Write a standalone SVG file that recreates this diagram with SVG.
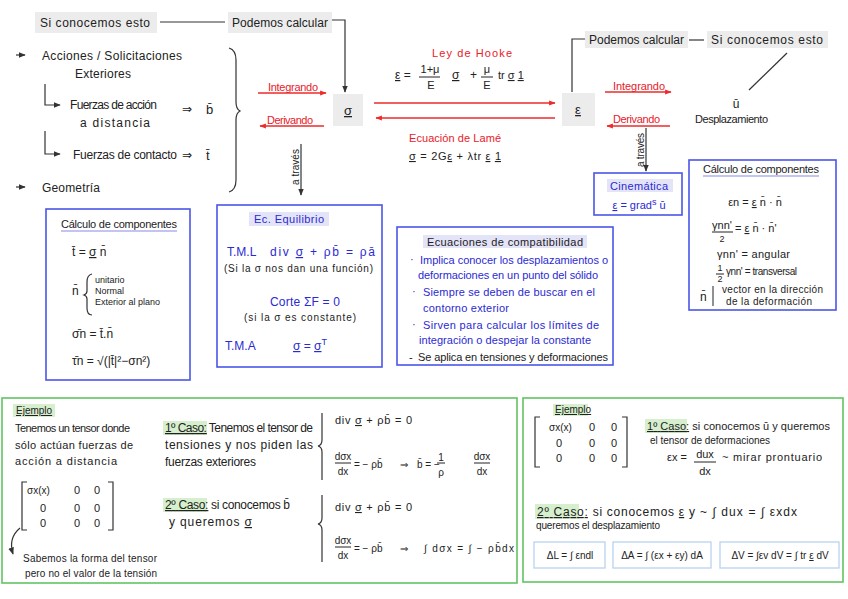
<svg xmlns="http://www.w3.org/2000/svg" width="848" height="599" viewBox="0 0 848 599">
<defs>
<style>
text{font-family:"Liberation Sans","DejaVu Sans",sans-serif;font-size:11px;fill:#222}
.r{fill:#e8202a}
.b{fill:#2a2ad2}
.s9{font-size:9px}
.s10{font-size:10px}
.s12{font-size:12px}
.s13{font-size:13px}
.mid{text-anchor:middle}
.u{text-decoration:underline}
.gbox{fill:#ececec}
.ln{stroke:#333;stroke-width:1.2;fill:none}
.rl{stroke:#ee2a2a;stroke-width:1.3;fill:none}
.bb{fill:#fff;stroke:#4b55e8;stroke-width:1.6}
.gb{fill:#fff;stroke:#62c462;stroke-width:1.6}
.lb{fill:#fff;stroke:#b9d3f2;stroke-width:1.3}
.hg{fill:#d6efcd}
.hb{fill:#e4e4f8}
.ul{stroke:#8a8ae8;stroke-width:1.2}
.bar{stroke:#222;stroke-width:1}
</style>
<marker id="ah" viewBox="0 0 10 10" refX="9" refY="5" markerWidth="6" markerHeight="6" orient="auto-start-reverse"><path d="M0,1 L10,5 L0,9 z" fill="#333"/></marker>
<marker id="ahr" viewBox="0 0 10 10" refX="9" refY="5" markerWidth="5" markerHeight="5" orient="auto-start-reverse"><path d="M0,1 L10,5 L0,9 z" fill="#ee2a2a"/></marker>
</defs>
<rect width="848" height="599" fill="#fff"/>

<g id="connectors">
<path class="ln" d="M160,22 H225"/>
<path class="ln" d="M332,20 H345 V92" marker-end="url(#ah)"/>
<path class="ln" d="M16,55 H25" marker-end="url(#ah)"/>
<path class="ln" d="M16,187 H25" marker-end="url(#ah)"/>
<path class="ln" d="M45,84 V105 H60" marker-end="url(#ah)"/>
<path class="ln" d="M45,131 V154 H60" marker-end="url(#ah)"/>
<path class="ln" d="M229,48 Q236,50 236,60 V102 Q236,109 240,111 Q236,113 236,120 V180 Q236,190 229,192"/>
<path class="rl" d="M258,93 H326" marker-end="url(#ahr)"/>
<path class="rl" d="M324,126 H260" marker-end="url(#ahr)"/>
<path class="ln" d="M301,144 V195" marker-end="url(#ah)"/>
<path class="rl" d="M374,103 H555" marker-end="url(#ahr)"/>
<path class="rl" d="M555,118 H376" marker-end="url(#ahr)"/>
<path class="ln" d="M572,92 V39 H585"/>
<path class="ln" d="M689,40 H704"/>
<path class="ln" d="M787,53 L749,90"/>
<path class="rl" d="M605,92 H671" marker-end="url(#ahr)"/>
<path class="rl" d="M670,126 H607" marker-end="url(#ahr)"/>
<path class="ln" d="M646,128 V171" marker-end="url(#ah)"/>
<text x="296" y="170" class="s10 mid" transform="rotate(-90 296 167)" textLength="36">a través</text>
<text x="641" y="153" class="s10 mid" transform="rotate(-90 641 150)" textLength="34">a través</text>
<text x="268" y="91" class="r" textLength="50">Integrando</text>
<text x="267" y="124" class="r" textLength="46">Derivando</text>
<text x="613" y="90" class="r" textLength="52">Integrando</text>
<text x="613" y="123" class="r" textLength="47">Derivando</text>
<text x="472" y="57" class="r mid" textLength="80">Ley de Hooke</text>
<text x="395" y="79" class="s12"><tspan class="u">ε</tspan> =</text>
<text x="430" y="73" class="mid">1+μ</text>
<line class="bar" x1="419" y1="77" x2="440" y2="77"/>
<text x="431" y="89" class="mid">E</text>
<text x="452" y="79" class="s12 u">σ</text>
<text x="470" y="79" class="s12">+</text>
<text x="487" y="73" class="mid">μ</text>
<line class="bar" x1="481" y1="77" x2="493" y2="77"/>
<text x="487" y="89" class="mid">E</text>
<text x="498" y="79">tr <tspan class="u">σ</tspan> <tspan class="u">1</tspan></text>
<text x="455" y="142" class="r mid" textLength="92">Ecuación de Lamé</text>
<text x="409" y="160" textLength="92"><tspan class="u">σ</tspan> = 2G<tspan class="u">ε</tspan> + λtr <tspan class="u">ε</tspan> <tspan class="u">1</tspan></text>
</g>

<g id="n-si-conocemos-izq">
<rect class="gbox" x="35" y="12" width="122" height="21"/>
<text x="40" y="27" class="s12" textLength="110">Si conocemos esto</text>
</g>
<g id="n-podemos-izq">
<rect class="gbox" x="228" y="12" width="104" height="21"/>
<text x="232" y="27" class="s12" textLength="96">Podemos calcular</text>
</g>
<g id="n-sigma">
<rect class="gbox" x="333" y="94" width="30" height="32"/>
<text x="348" y="115" class="s13 mid u">σ</text>
</g>
<g id="n-epsilon">
<rect class="gbox" x="562" y="93" width="33" height="33"/>
<text x="578" y="114" class="s13 mid u">ε</text>
</g>
<g id="n-acciones">
<text x="42" y="60" class="s12" textLength="140">Acciones / Solicitaciones</text>
<text x="75" y="78" class="s12" textLength="56">Exteriores</text>
<text x="70" y="109" class="s12" textLength="87">Fuerzas de acción</text>
<text x="80" y="127" class="s12" textLength="70">a distancia</text>
<text x="182" y="113" class="s12">⇒</text>
<text x="206" y="114" class="s13">b̄</text>
<text x="73" y="159" class="s12" textLength="104">Fuerzas de contacto</text>
<text x="182" y="159" class="s12">⇒</text>
<text x="206" y="160" class="s13">t̄</text>
<text x="42" y="192" class="s12" textLength="58">Geometría</text>
</g>
<g id="n-podemos-der">
<rect class="gbox" x="585" y="31" width="103" height="17"/>
<text x="589" y="44" class="s12" textLength="95">Podemos calcular</text>
</g>
<g id="n-si-conocemos-der">
<rect class="gbox" x="707" y="31" width="121" height="17"/>
<text x="711" y="44" class="s12" textLength="112">Si conocemos esto</text>
</g>
<g id="n-desplazamiento">
<text x="736" y="108" class="s12 mid">ū</text>
<text x="695" y="123" textLength="73">Desplazamiento</text>
</g>

<g id="n-calculo-izq">
<rect class="bb" x="46" y="209" width="144" height="171"/>
<text x="61" y="228" textLength="116">Cálculo de componentes</text>
<line class="ul" x1="61" y1="231" x2="177" y2="231"/>
<text x="72" y="256" class="s12">t̄ = <tspan class="u">σ</tspan> n̄</text>
<text x="72" y="295" class="s12">n̄</text>
<path class="ln" d="M92,274 Q87,275 87,282 V291 Q87,294 84,295 Q87,296 87,299 V308 Q87,315 92,315"/>
<text x="95" y="283" class="s9">unitario</text>
<text x="95" y="294" class="s9">Normal</text>
<text x="95" y="305" class="s9">Exterior al plano</text>
<text x="72" y="338" class="s12">σ̄n = t̄.n̄</text>
<text x="72" y="365" class="s12">τ̄n = √(|t̄|²−σn²)</text>
</g>

<g id="n-equilibrio">
<rect class="bb" x="217" y="205" width="165" height="162"/>
<rect class="hb" x="249" y="212" width="80" height="14"/>
<text x="289" y="223" class="b mid" textLength="70">Ec. Equilibrio</text>
<text x="227" y="256" class="b s12">T.M.L</text>
<text x="270" y="256" class="b s12" textLength="105">div <tspan class="u">σ</tspan> + ρb̄ = ρā</text>
<text x="224" y="272" class="s10" textLength="149">(Si la σ nos dan una función)</text>
<text x="305" y="306" class="b s12 mid" textLength="70">Corte ΣF = 0</text>
<text x="300" y="321" class="s10 mid" textLength="112">(si la σ es constante)</text>
<text x="225" y="350" class="b s12">T.M.A</text>
<text x="293" y="350" class="b s12"><tspan class="u">σ</tspan> = <tspan class="u">σ</tspan><tspan dy="-5" class="s9">T</tspan></text>
</g>

<g id="n-compatibilidad">
<rect class="bb" x="397" y="227" width="216" height="138"/>
<rect class="hb" x="423" y="235" width="164" height="13"/>
<text x="505" y="246" class="mid" textLength="156">Ecuaciones de compatibilidad</text>
<text x="410" y="263" class="b">·</text>
<text x="420" y="264" class="b" textLength="188">Implica conocer los desplazamientos o</text>
<text x="418" y="279" class="b" textLength="180">deformaciones en un punto del sólido</text>
<text x="412" y="295" class="b">·</text>
<text x="423" y="296" class="b" textLength="172">Siempre se deben de buscar en el</text>
<text x="423" y="312" class="b" textLength="86">contorno exterior</text>
<text x="412" y="328" class="b">·</text>
<text x="423" y="329" class="b" textLength="176">Sirven para calcular los límites de</text>
<text x="419" y="344" class="b" textLength="172">integración o despejar la constante</text>
<text x="409" y="361">-</text>
<text x="418" y="361" textLength="190">Se aplica en tensiones y deformaciones</text>
</g>

<g id="n-cinematica">
<rect class="bb" x="594" y="173" width="88" height="42"/>
<rect class="hb" x="607" y="179" width="66" height="13"/>
<text x="639" y="190" class="b mid" textLength="58">Cinemática</text>
<text x="639" y="209" class="b mid"><tspan class="u">ε</tspan> = grad<tspan dy="-4" class="s9">s</tspan><tspan dy="4"> ū</tspan></text>
</g>

<g id="n-calculo-der">
<rect class="bb" x="689" y="160" width="147" height="150"/>
<text x="703" y="173" textLength="116">Cálculo de componentes</text>
<line class="ul" x1="703" y1="176" x2="819" y2="176"/>
<text x="755" y="206" class="mid">εn = <tspan class="u">ε</tspan> n̄ · n̄</text>
<text x="722" y="229" class="mid">γnn'</text>
<line class="bar" x1="712" y1="232" x2="733" y2="232"/>
<text x="722" y="242" class="mid s9">2</text>
<text x="735" y="232">= <tspan class="u">ε</tspan> n̄ · n̄'</text>
<text x="717" y="258" textLength="73">γnn' = angular</text>
<text x="720" y="271" class="mid s9">1</text>
<line class="bar" x1="716" y1="274" x2="724" y2="274"/>
<text x="720" y="282" class="mid s9">2</text>
<text x="726" y="275" class="s10" textLength="71">γnn' = transversal</text>
<text x="700" y="301" class="s12">n̄</text>
<line class="bar" x1="713" y1="286" x2="713" y2="306"/>
<text x="722" y="293" class="s10" textLength="101">vector en la dirección</text>
<text x="726" y="305" class="s10" textLength="86">de la deformación</text>
</g>

<g id="n-ejemplo-tensiones">
<rect class="gb" x="2" y="398" width="515" height="185"/>
<rect class="hg" x="13" y="404" width="42" height="13"/>
<text x="16" y="414" class="s10 u">Ejemplo</text>
<text x="15" y="432" textLength="115">Tenemos un tensor donde</text>
<text x="15" y="449" textLength="118">sólo actúan fuerzas de</text>
<text x="15" y="465" textLength="102">acción a distancia</text>
<path class="ln" d="M27,482 H22 V530 H27"/>
<path class="ln" d="M108,482 H113 V530 H108"/>
<text x="27" y="494" class="s10">σx(x)</text>
<text x="77" y="494" class="mid">0</text>
<text x="97" y="494" class="mid">0</text>
<text x="43" y="512" class="mid">0</text>
<text x="77" y="512" class="mid">0</text>
<text x="97" y="512" class="mid">0</text>
<text x="43" y="527" class="mid">0</text>
<text x="77" y="527" class="mid">0</text>
<text x="97" y="527" class="mid">0</text>
<path class="ln" d="M20,528 Q8,538 13,554" marker-end="url(#ah)"/>
<text x="23" y="562" class="s10" textLength="134">Sabemos la forma del tensor</text>
<text x="25" y="577" class="s10" textLength="132">pero no el valor de la tensión</text>
<rect class="hg" x="163" y="421" width="44" height="14"/>
<text x="165" y="432" class="s12" textLength="148"><tspan class="u">1º Caso:</tspan> Tenemos el tensor de</text>
<text x="165" y="449" class="s12" textLength="148">tensiones y nos piden las</text>
<text x="165" y="466" class="s12" textLength="91">fuerzas exteriores</text>
<rect class="hg" x="163" y="498" width="44" height="14"/>
<text x="165" y="509" class="s12" textLength="125"><tspan class="u">2º Caso:</tspan> si conocemos b̄</text>
<text x="169" y="526" class="s12" textLength="83">y queremos <tspan class="u">σ</tspan></text>
<path class="ln" d="M322,413 V440 Q322,445 318,446 Q322,447 322,452 V480"/>
<path class="ln" d="M322,495 V518 Q322,523 318,524 Q322,525 322,530 V562"/>
<text x="335" y="424" textLength="77">div <tspan class="u">σ</tspan>  + ρb̄ = 0</text>
<text x="343" y="460" class="s10 mid">dσx</text>
<line class="bar" x1="335" y1="463" x2="351" y2="463"/>
<text x="343" y="475" class="s10 mid">dx</text>
<text x="354" y="468" class="s10">= − ρb̄</text>
<text x="400" y="468" class="s10">⇒</text>
<text x="417" y="468" class="s10">b̄ = −</text>
<text x="441" y="461" class="s10 mid">1</text>
<line class="bar" x1="437" y1="463" x2="445" y2="463"/>
<text x="441" y="476" class="s10 mid">ρ</text>
<text x="482" y="460" class="s10 mid">dσx</text>
<line class="bar" x1="474" y1="463" x2="490" y2="463"/>
<text x="482" y="475" class="s10 mid">dx</text>
<text x="335" y="511" textLength="77">div <tspan class="u">σ</tspan>  + ρb̄ = 0</text>
<text x="343" y="544" class="s10 mid">dσx</text>
<line class="bar" x1="335" y1="547" x2="351" y2="547"/>
<text x="343" y="559" class="s10 mid">dx</text>
<text x="354" y="552" class="s10">= − ρb̄</text>
<text x="400" y="552" class="s10">⇒</text>
<text x="424" y="552" class="s10" textLength="90">∫ dσx = ∫ − ρb̄dx</text>
</g>

<g id="n-ejemplo-deformaciones">
<rect class="gb" x="523" y="398" width="320" height="184"/>
<rect class="hg" x="553" y="404" width="35" height="12"/>
<text x="555" y="413" class="s10 u">Ejemplo</text>
<path class="ln" d="M540,417 H535 V467 H540"/>
<path class="ln" d="M622,417 H627 V467 H622"/>
<text x="549" y="431" class="s10">σx(x)</text>
<text x="592" y="431" class="mid">0</text>
<text x="614" y="431" class="mid">0</text>
<text x="559" y="447" class="mid">0</text>
<text x="592" y="447" class="mid">0</text>
<text x="614" y="447" class="mid">0</text>
<text x="559" y="462" class="mid">0</text>
<text x="592" y="462" class="mid">0</text>
<text x="614" y="462" class="mid">0</text>
<rect class="hg" x="645" y="419" width="42" height="14"/>
<text x="647" y="430" textLength="183"><tspan class="u">1º Caso:</tspan> si conocemos ū y queremos</text>
<text x="650" y="444" class="s10" textLength="120">el tensor de deformaciones</text>
<text x="667" y="461">εx =</text>
<text x="705" y="458" class="mid">dux</text>
<line class="bar" x1="694" y1="462" x2="716" y2="462"/>
<text x="705" y="475" class="mid">dx</text>
<text x="722" y="461" textLength="100">~ mirar prontuario</text>
<rect class="hg" x="535" y="504" width="44" height="15"/>
<text x="537" y="516" class="s12" textLength="158"><tspan class="u">2º Caso:</tspan> si conocemos <tspan class="u">ε</tspan> y</text>
<text x="700" y="516" class="s12" textLength="97">~ ∫ dux = ∫ εxdx</text>
<text x="536" y="529" class="s10" textLength="124">queremos el desplazamiento</text>
<rect class="lb" x="534" y="542" width="71" height="26"/>
<text x="570" y="559" class="mid s10">ΔL = ∫ εndl</text>
<rect class="lb" x="613" y="542" width="98" height="26"/>
<text x="662" y="559" class="mid s10">ΔA = ∫ (εx + εy) dA</text>
<rect class="lb" x="720" y="542" width="119" height="26"/>
<text x="780" y="559" class="mid s10">ΔV = ∫εv dV = ∫ tr <tspan class="u">ε</tspan> dV</text>
</g>
</svg>
